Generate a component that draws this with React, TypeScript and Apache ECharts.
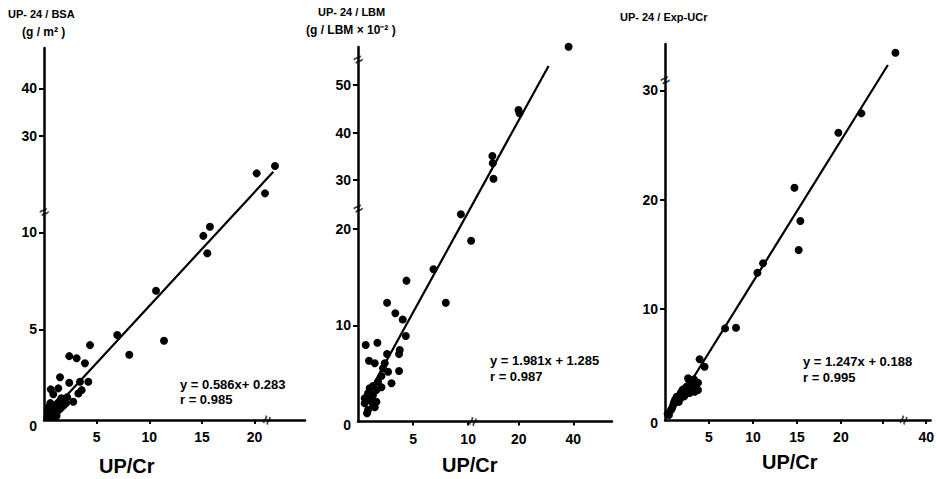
import React, { useEffect, useRef } from 'react';
import * as echarts from 'echarts';

// ---- data (values read on each panel's linear drawing scale) ----
const bsaPoints: [number, number][] = [
  [6.96, 4.71], [4.37, 4.19], [11.4, 4.41], [8.1, 3.69], [2.4, 3.62], [3.1, 3.51], [3.89, 3.25],
  [1.52, 2.53], [2.4, 2.25], [4.21, 2.3], [3.42, 2.3], [3.58, 1.87], [3.26, 1.7], [0.64, 1.91],
  [1.36, 1.96], [0.88, 1.66], [2.78, 1.27], [10.64, 6.99], [15.13, 9.82], [15.76, 10.29],
  [15.51, 8.92], [20.2, 13.04], [20.99, 12.01], [21.94, 13.42],
  [0.3, 0.5], [0.4, 0.6], [0.5, 0.5], [0.5, 0.8], [0.6, 0.7], [0.7, 0.55], [0.7, 0.9], [0.8, 0.75],
  [0.9, 0.6], [0.9, 1.0], [1.0, 0.85], [1.1, 0.7], [1.1, 1.1], [1.2, 0.95], [1.3, 0.8], [1.3, 1.2],
  [1.4, 1.0], [1.5, 0.9], [1.5, 1.3], [1.6, 1.1], [1.7, 1.0], [1.8, 1.25], [1.9, 1.1], [2.0, 1.4],
  [2.1, 1.2], [0.45, 1.0], [0.6, 1.2], [0.35, 0.8], [1.0, 0.5], [1.2, 0.55], [2.2, 1.5], [1.65, 1.45],
];
const lbmPoints: [number, number][] = [
  [19.12, 38.96], [14.57, 32.38], [14.66, 32.04], [12.2, 27.6], [12.24, 26.84], [12.3, 25.24],
  [9.34, 21.54], [10.27, 18.79], [6.85, 15.82], [4.4, 14.64], [2.64, 12.35], [7.97, 12.35],
  [3.39, 11.25], [4.06, 10.6], [4.34, 8.89], [0.7, 7.95], [1.76, 8.19], [3.79, 7.43], [3.73, 7.02],
  [2.64, 7.02], [1.0, 6.32], [1.52, 6.05], [2.43, 6.05], [2.27, 5.53], [2.73, 5.18], [3.73, 5.25],
  [2.13, 4.73], [3.04, 3.97], [1.82, 4.14], [1.36, 3.69], [2.13, 3.56], [1.06, 3.45], [1.67, 3.27],
  [0.91, 2.93], [1.36, 2.75], [0.61, 2.41], [1.13, 2.23], [1.67, 2.06], [0.61, 1.89], [1.36, 1.72],
  [0.91, 1.2], [0.82, 0.85], [1.52, 1.48],
];
const ucrPoints: [number, number][] = [
  [26.2, 33.45], [22.33, 27.9], [19.71, 26.13], [14.72, 21.09], [15.39, 18.04], [15.2, 15.38],
  [11.15, 14.17], [10.51, 13.31], [6.83, 8.21], [8.07, 8.27], [3.94, 5.38], [4.5, 4.7],
  [2.62, 3.64], [3.3, 3.54], [3.75, 3.23], [3.75, 2.56], [3.38, 2.41], [2.93, 2.87], [2.33, 2.56],
  [1.8, 2.32], [1.32, 1.95], [2.06, 2.11], [1.58, 1.49], [0.94, 1.19], [0.68, 0.73], [0.45, 0.27],
  [1.13, 1.65], [2.44, 2.87], [3.0, 3.32], [1.0, 1.4], [1.6, 2.0], [2.0, 2.6], [2.7, 3.5],
  [0.3, 0.4], [0.8, 0.9], [1.4, 1.5], [2.2, 2.0], [2.8, 2.3], [3.5, 3.0], [1.9, 1.9],
];

const bsaFit: [number, number][] = [[0.26, 0.49], [21.78, 13.12]];
const lbmFit: [number, number][] = [[0.79, 2.58], [17.3, 36.95]];
const ucrFit: [number, number][] = [[0.37, 0.0], [25.34, 32.33]];

const bsaYTicks = [5, 10, 14.96, 17.42];
const bsaYLabels = ['5', '10', '30', '40'];
const bsaXTicks = [5, 10, 15, 20];
const bsaXLabels = ['5', '10', '15', '20'];
const lbmYTicks = [10, 20, 25.1, 30.02, 34.98];
const lbmYLabels = ['10', '20', '30', '40', '50'];
const lbmXTicks = [5, 10, 14.6, 19.55];
const lbmXLabels = ['5', '10', '20', '40'];
const ucrYTicks = [10, 20, 30];
const ucrYLabels = ['10', '20', '30'];
const ucrXTicks = [5, 10, 15, 20, 24.8, 29.7];
const ucrXLabels = ['5', '10', '15', '20', '', '40'];

const bsaYBreaks = [11.06];
const bsaXBreaks = [21.15];
const lbmYBreaks = [22.16, 37.65];
const lbmXBreaks = [10.4];
const ucrYBreaks = [30.95];
const ucrXBreaks = [27.1];

const FONT = '"Liberation Sans", Arial, Helvetica, sans-serif';

interface Panel {
  left: number; top: number; width: number; height: number;
  xMin: number; xMax: number; yMin: number; yMax: number;
  xTicks: number[]; xLabels: string[]; yTicks: number[]; yLabels: string[];
  zeroShift: number;
  points: [number, number][]; fit: [number, number][];
  xBreaks: number[]; yBreaks: number[];
}

const panels: Panel[] = [
  {
    left: 44, top: 48, width: 261, height: 372, xMin: 0, xMax: 24.79, yMin: 0.33, yMax: 19.5,
    xTicks: bsaXTicks, xLabels: bsaXLabels, yTicks: bsaYTicks, yLabels: bsaYLabels, zeroShift: 12,
    points: bsaPoints, fit: bsaFit, xBreaks: bsaXBreaks, yBreaks: bsaYBreaks,
  },
  {
    left: 358, top: 47, width: 254, height: 374.5, xMin: 0, xMax: 23.06, yMin: 0, yMax: 38.93,
    xTicks: lbmXTicks, xLabels: lbmXLabels, yTicks: lbmYTicks, yLabels: lbmYLabels, zeroShift: 7,
    points: lbmPoints, fit: lbmFit, xBreaks: lbmXBreaks, yBreaks: lbmYBreaks,
  },
  {
    left: 665, top: 44, width: 268, height: 376, xMin: 0, xMax: 30.2, yMin: -0.18, yMax: 34.25,
    xTicks: ucrXTicks, xLabels: ucrXLabels, yTicks: ucrYTicks, yLabels: ucrYLabels, zeroShift: 6,
    points: ucrPoints, fit: ucrFit, xBreaks: ucrXBreaks, yBreaks: ucrYBreaks,
  },
];

function labelFor(ticks: number[], labels: string[], v: number): string {
  for (let i = 0; i < ticks.length; i++) if (Math.abs(ticks[i] - v) < 1e-6) return labels[i];
  return '';
}

export default function App() {
  const ref = useRef<HTMLDivElement>(null);
  useEffect(() => {
    if (!ref.current) return;
    const chart = echarts.init(ref.current, undefined, { renderer: 'svg' });
    const grid: any[] = [];
    const xAxis: any[] = [];
    const yAxis: any[] = [];
    const series: any[] = [];
    const axisLine = { show: true, onZero: false, lineStyle: { color: '#000', width: 2.5 } };
    panels.forEach((p, i) => {
      grid.push({ left: p.left, top: p.top, width: p.width, height: p.height, containLabel: false });
      xAxis.push({
        type: 'value', gridIndex: i, min: p.xMin, max: p.xMax,
        axisLine,
        axisTick: { show: true, customValues: p.xTicks, length: 4, lineStyle: { color: '#000', width: 2 } },
        axisLabel: {
          customValues: p.xTicks, margin: 10, color: '#000', fontSize: 14, fontWeight: 'bold', fontFamily: FONT,
          formatter: (v: number) => labelFor(p.xTicks, p.xLabels, v),
        },
        splitLine: { show: false },
      });
      const yLabelVals = [p.yMin, ...p.yTicks];
      yAxis.push({
        type: 'value', gridIndex: i, min: p.yMin, max: p.yMax,
        axisLine,
        axisTick: { show: true, customValues: p.yTicks, length: 5, lineStyle: { color: '#000', width: 2 } },
        axisLabel: {
          customValues: yLabelVals, margin: 7, color: '#000', fontSize: 14, fontWeight: 'bold', fontFamily: FONT,
          showMinLabel: true,
          formatter: (v: number) => (Math.abs(v - p.yMin) < 1e-6 ? '{z|0}' : labelFor(p.yTicks, p.yLabels, v)),
          rich: { z: { padding: [p.zeroShift, 0, 0, 0], fontSize: 14, fontWeight: 'bold', fontFamily: FONT, color: '#000' } },
        },
        splitLine: { show: false },
      });
      series.push({
        type: 'scatter', xAxisIndex: i, yAxisIndex: i, data: p.points, symbolSize: 8, clip: false,
        itemStyle: { color: '#000', opacity: 1 }, silent: true,
      });
      series.push({
        type: 'line', xAxisIndex: i, yAxisIndex: i, data: p.fit, showSymbol: false, clip: false,
        lineStyle: { color: '#000', width: 2.2 }, silent: true,
      });
      const breakLabel = (rotate: number) => ({
        show: true, formatter: '≈', position: 'inside', color: '#000', fontSize: 16, fontWeight: 'bold',
        fontFamily: FONT, rotate,
      });
      series.push({
        type: 'scatter', xAxisIndex: i, yAxisIndex: i, symbolSize: 0, clip: false, silent: true,
        data: p.yBreaks.map((b) => [p.xMin, b]), label: breakLabel(30), itemStyle: { color: 'transparent' },
      });
      series.push({
        type: 'scatter', xAxisIndex: i, yAxisIndex: i, symbolSize: 0, clip: false, silent: true,
        data: p.xBreaks.map((b) => [b, p.yMin]), label: breakLabel(70), itemStyle: { color: 'transparent' },
      });
    });

    const txt = (text: string, left: number, top: number, fontSize: number) => ({
      type: 'text', left, top, silent: true,
      style: { text, fill: '#000', fontSize, fontWeight: 'bold', fontFamily: FONT },
    });

    chart.setOption({
      animation: false,
      grid, xAxis, yAxis, series,
      graphic: [
        txt('UP- 24 / BSA', 8, 8, 11),
        txt('(g / m² )', 22, 26, 12),
        txt('UP- 24 / LBM', 318, 6, 11),
        txt('(g / LBM × 10⁻² )', 306, 24, 12),
        txt('UP- 24 / Exp-UCr', 620, 11, 11),
        txt('UP/Cr', 99, 456, 20),
        txt('UP/Cr', 442, 455, 20),
        txt('UP/Cr', 762, 452, 20),
        txt('y = 0.586x+ 0.283', 180, 378, 13),
        txt('r = 0.985', 180, 393, 13),
        txt('y = 1.981x + 1.285', 490, 354, 13),
        txt('r = 0.987', 490, 370, 13),
        txt('y = 1.247x + 0.188', 803, 355, 13),
        txt('r = 0.995', 803, 371, 13),
      ],
    });
    return () => chart.dispose();
  }, []);
  return <div ref={ref} style={{ position: 'absolute', left: 0, top: 0, width: 937, height: 479, background: '#fff' }} />;
}
